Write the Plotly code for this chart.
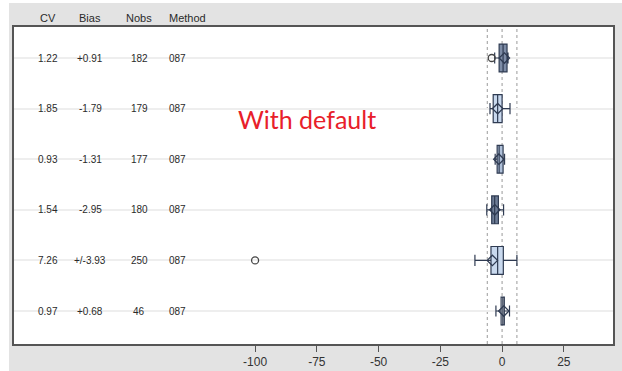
import plotly.graph_objects as go

# ---- data ----
rows = [1, 2, 3, 4, 5, 6]
cv = ["1.22", "1.85", "0.93", "1.54", "7.26", "0.97"]
bias = ["+0.91", "-1.79", "-1.31", "-2.95", "+/-3.93", "+0.68"]
nobs = ["182", "179", "177", "180", "250", "46"]
method = ["087", "087", "087", "087", "087", "087"]

lower = [-3.0, -4.9, -2.8, -6.2, -11.0, -2.5]
q1 = [-1.2, -3.6, -2.0, -4.2, -4.5, -0.4]
median = [0.4, -1.8, -1.2, -3.0, -1.8, 0.3]
q3 = [2.0, 0.0, 0.4, -1.5, 0.5, 0.9]
upper = [2.4, 3.2, 1.0, 0.6, 6.0, 3.0]
means = [0.91, -1.79, -1.31, -2.95, -3.93, 0.68]
outlier_x = [-4.2, -100.0]
outlier_row = [1, 5]
ref_lines = [-6, 0, 6]
x_ticks = [-100, -75, -50, -25, 0, 25]
x_tick_text = ["-100", "-75", "-50", "-25", "0", "25"]

fills = ["#7d8ca6", "#c9d9ee", "#aebfd8", "#6f7e97", "#c9d9ee", "#ffffff"]

W, H = 622, 371
L, R, T, B = 14, 9, 27, 27
pw, ph = W - L - R, H - T - B


def px_to_paper_x(px):
    return (px - L) / pw


def px_to_paper_y(py):
    return (H - B - py) / ph


fig = go.Figure()

for i, r in enumerate(rows):
    fig.add_trace(go.Box(
        orientation="h", y=[r], q1=[q1[i]], median=[median[i]], q3=[q3[i]],
        lowerfence=[lower[i]], upperfence=[upper[i]],
        width=0.55, whiskerwidth=0.4,
        fillcolor=fills[i], line=dict(color="#2f3b52", width=1.2),
        boxpoints=False, showlegend=False, hoverinfo="skip",
    ))

fig.add_trace(go.Scatter(
    x=means, y=rows, mode="markers",
    marker=dict(symbol="diamond-open", size=8, color="#2f3b52", line=dict(width=1.3)),
    showlegend=False, hoverinfo="skip",
))
fig.add_trace(go.Scatter(
    x=outlier_x, y=outlier_row, mode="markers",
    marker=dict(symbol="circle-open", size=7, color="#444", line=dict(width=1.3)),
    showlegend=False, hoverinfo="skip",
))

# table columns
cols = [
    ("CV", cv, 48, "center"),
    ("Bias", bias, 90, "center"),
    ("Nobs", nobs, 139, "center"),
    ("Method", method, 167, "left"),
]
tfont = dict(size=10, color="#2a2a2a", family="Liberation Sans")
for h, vals, cx, anchor in cols:
    for r, v in zip(rows, vals):
        fig.add_annotation(x=px_to_paper_x(cx), xref="paper", y=r, yref="y", text=v,
                           xanchor=anchor, yanchor="middle", showarrow=False, font=tfont)
    fig.add_annotation(x=px_to_paper_x(cx), xref="paper", y=px_to_paper_y(18),
                       yref="paper", xanchor=anchor, yanchor="middle", text=h,
                       showarrow=False,
                       font=dict(size=11, color="#2a2a2a", family="Liberation Sans"))

fig.add_annotation(x=px_to_paper_x(306.5), xref="paper", y=px_to_paper_y(119),
                   yref="paper", xanchor="center", yanchor="middle",
                   text="With default", showarrow=False,
                   font=dict(size=25, color="#e8202a", family="Lato"))

for v in ref_lines:
    fig.add_shape(type="line", x0=v, x1=v, xref="x", y0=0, y1=1, yref="paper",
                  line=dict(color="#9a9a9a", width=1, dash="dot"), layer="below")

# white strips at the left and top edges of the picture
fig.add_shape(type="rect", xref="paper", yref="paper",
              x0=px_to_paper_x(-2), x1=px_to_paper_x(9), y0=px_to_paper_y(H + 2),
              y1=px_to_paper_y(-2), fillcolor="#ffffff", line=dict(width=0))
fig.add_shape(type="rect", xref="paper", yref="paper",
              x0=px_to_paper_x(-2), x1=px_to_paper_x(W + 2), y0=px_to_paper_y(3),
              y1=px_to_paper_y(-2), fillcolor="#ffffff", line=dict(width=0))

fig.update_layout(
    width=W, height=H,
    margin=dict(l=L, r=R, t=T, b=B, pad=0, autoexpand=False),
    paper_bgcolor="#e3e3e3", plot_bgcolor="#ffffff",
    font=dict(family="Liberation Sans", color="#333"),
)
fig.update_xaxes(range=[-197.6, 44.9], tickvals=x_ticks, ticktext=x_tick_text,
                 ticks="outside", ticklen=6, automargin=False,
                 tickcolor="#555", showgrid=False, zeroline=False, showline=True,
                 linecolor="#555", linewidth=2, mirror=True,
                 tickfont=dict(size=12, color="#333"))
fig.update_yaxes(range=[6.652, 0.387], tickvals=rows, showticklabels=False, showgrid=True,
                 automargin=False,
                 gridcolor="#eeeeee", gridwidth=2, zeroline=False, showline=True,
                 linecolor="#555", linewidth=2, mirror=True)

fig.write_html("out.html", config={"displayModeBar": False},
               post_script="document.body.style.margin='0px';")
